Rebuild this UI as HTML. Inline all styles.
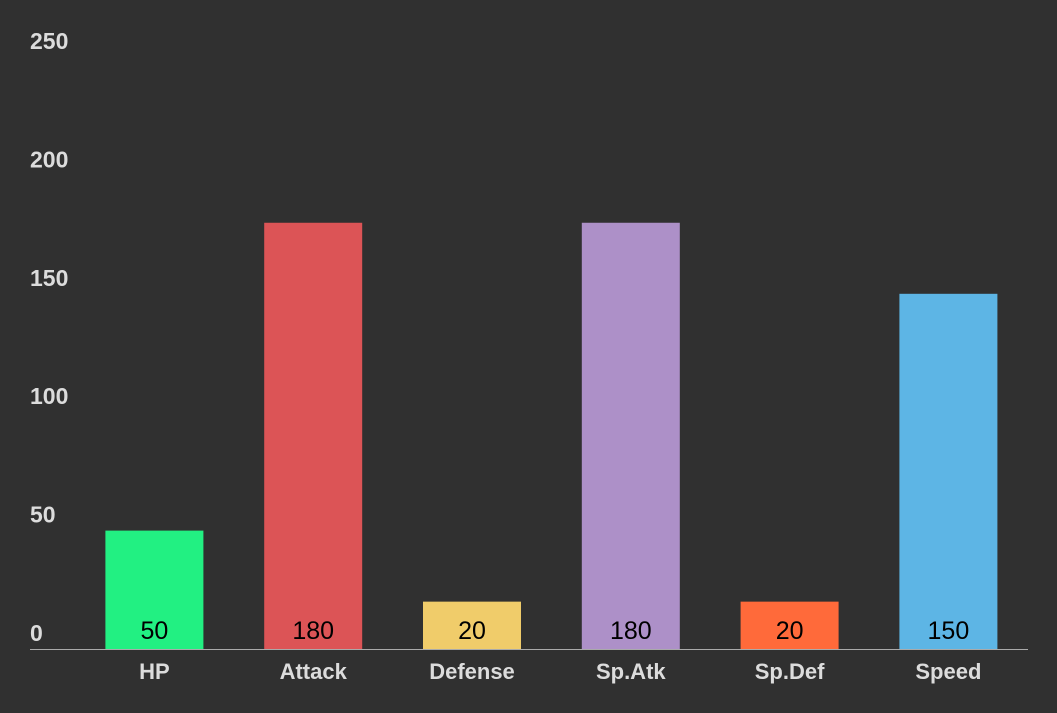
<!DOCTYPE html>
<html><head><meta charset="utf-8"><style>
html,body{margin:0;padding:0;background:#303030;}
svg{display:block;font-family:"Liberation Sans",sans-serif;}
</style></head><body>
<svg id="chart" width="1057" height="713">
<rect width="1057" height="713" fill="#303030"/>
</svg>
<script>
const categories = ["HP","Attack","Defense","Sp.Atk","Sp.Def","Speed"];
const values = [50,180,20,180,20,150];
const colors = ["#22f082","#dc5456","#f0cc6a","#ad90c8","#ff6a3a","#5db5e5"];
const yTicks = [0,50,100,150,200,250];

const svg = document.getElementById('chart');
const NS = 'http://www.w3.org/2000/svg';
const baseY = 649, pxPerUnit = 2.368;
const bandStart = 75, band = 158.8, barW = 98;
const y = v => baseY - v * pxPerUnit;
const xc = i => bandStart + band * i + band / 2;
function mk(tag, attrs){const e=document.createElementNS(NS,tag);for(const k in attrs)e.setAttribute(k,attrs[k]);svg.appendChild(e);return e;}

yTicks.forEach(t=>{
  const e = mk('text',{x:30,y:y(t)-8,fill:'#dcdcdc','font-size':23,'font-weight':'bold'});
  e.textContent = t;
  
  
});

categories.forEach((c,i)=>{
  const r = mk('rect',{x:xc(i)-barW/2,y:y(values[i]),width:barW,height:baseY-y(values[i]),fill:colors[i]});
  
  
  const v = mk('text',{x:xc(i),y:639,'text-anchor':'middle',fill:'#000','font-size':25});
  v.textContent = values[i];
  
  
  const l = mk('text',{x:xc(i),y:679,'text-anchor':'middle',fill:'#dcdcdc','font-size':22,'font-weight':'bold'});
  l.textContent = c;
  
  
});

const ax = mk('line',{x1:30,x2:1028,y1:baseY+0.5,y2:baseY+0.5,stroke:'#aaaaaa','stroke-width':1});


</script>
</body></html>
